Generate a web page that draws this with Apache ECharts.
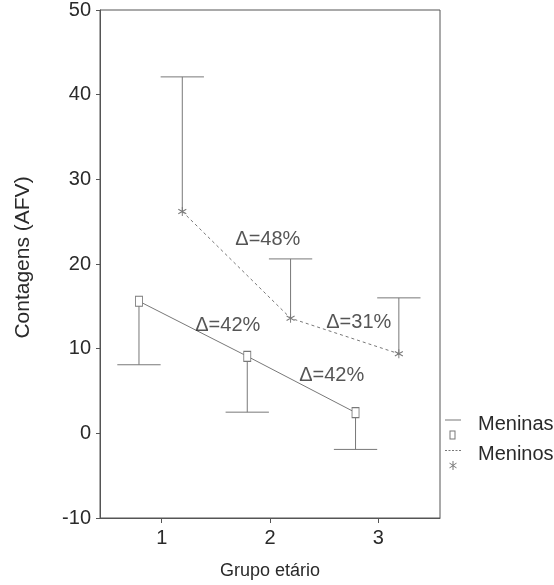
<!DOCTYPE html>
<html>
<head>
<meta charset="utf-8">
<script src="https://cdn.jsdelivr.net/npm/echarts@6/dist/echarts.min.js"></script>
<style>
	html, body { margin: 0; padding: 0; background: #fff; }
	#chart { width: 554px; height: 585px; }
</style>
</head>
<body>
<div id="chart"></div>
<script>
// grupos etários e médias
let groups = [1, 2, 3];
let meninasMean = [15.6, 9.1, 2.45];
let meninasLow = [8.1, 2.5, -1.9];     // média - DP
let meninosMean = [26.2, 13.6, 9.4];
let meninosHigh = [42.1, 20.6, 16.0];  // média + DP
let yTicks = [-10, 0, 10, 20, 30, 40, 50];
let deltaText = ['Δ=48%', 'Δ=42%', 'Δ=31%', 'Δ=42%'];
let deltaAt = [[1.98, 22.9], [1.61, 12.75], [2.82, 13.1], [2.57, 6.85]];

let offMeninas = -0.21,
	offMeninos = 0.19,
	capHalf = 0.2,
	lineColor = '#787878',
	axisColor = '#555',
	textColor = '#2a2a2a',
	font = 'Liberation Sans';

let starPath = 'path://M5,0V10M0.67,2.5L9.33,7.5M0.67,7.5L9.33,2.5';
let iconMeninas = 'path://M0,0H16V1H0Z M4.5,11H10.5V20H4.5Z M5.5,12V19H9.5V12Z';
let iconMeninos = 'path://M0,0H2V1H0Z M3.5,0H5.5V1H3.5Z M7,0H9V1H7Z M10.5,0H12.5V1H10.5Z M14,0H16V1H14Z ' +
	'M7.5,11H8.5V20H7.5Z M4.5,12.5L11.5,17.5L11.5,18.5L4.5,13.5Z M4.5,17.5L11.5,12.5L11.5,13.5L4.5,18.5Z';

function errData(mean, end, off){
	return groups.map(function(g, i){ return [g + off, mean[i], end[i]]; });
}
function pointData(mean, off){
	return groups.map(function(g, i){ return [g + off, mean[i]]; });
}
function renderErr(params, api){
	let x = api.value(0);
	let p0 = api.coord([x, api.value(1)]);
	let p1 = api.coord([x, api.value(2)]);
	let cL = api.coord([x - capHalf, api.value(2)]);
	let cR = api.coord([x + capHalf, api.value(2)]);
	let st = { stroke: lineColor, lineWidth: 1 };
	return {
		type: 'group',
		children: [
			{ type: 'line', shape: { x1: p0[0], y1: p0[1], x2: p1[0], y2: p1[1] }, style: st },
			{ type: 'line', shape: { x1: cL[0], y1: cL[1], x2: cR[0], y2: cR[1] }, style: st }
		]
	};
}

let chart = echarts.init(document.getElementById('chart'));
let option = {
	backgroundColor: '#fff',
	animation: false,
	textStyle: { fontFamily: font, color: textColor },
	grid: { left: 100, right: 114, top: 10, bottom: 67, show: true, borderColor: axisColor, borderWidth: 1 },
	legend: {
		orient: 'vertical',
		left: 445,
		top: 414,
		padding: 0,
		itemWidth: 16,
		itemHeight: 20,
		itemGap: 5,
		symbolKeepAspect: false,
		formatter: '{t|{name}}',
		textStyle: {
			fontFamily: font, fontSize: 20, color: textColor,
			rich: { t: { fontFamily: font, fontSize: 20, color: textColor, padding: [0, 0, 11, 12] } }
		},
		data: [
			{ name: 'Meninas', icon: iconMeninas, itemStyle: { color: lineColor, borderWidth: 0 } },
			{ name: 'Meninos', icon: iconMeninos, itemStyle: { color: lineColor, borderWidth: 0 } }
		]
	},
	xAxis: {
		type: 'value',
		min: 0.43,
		max: 3.57,
		name: 'Grupo etário',
		nameLocation: 'middle',
		nameGap: 44,
		nameTextStyle: { fontFamily: font, fontSize: 18, color: textColor },
		axisLine: { onZero: false, lineStyle: { color: axisColor } },
		axisTick: { show: true, length: 5, customValues: groups, lineStyle: { color: axisColor } },
		axisLabel: { customValues: groups, fontFamily: font, fontSize: 20, color: textColor, margin: 10 },
		splitLine: { show: false }
	},
	yAxis: {
		type: 'value',
		min: -10,
		max: 50,
		interval: 10,
		name: 'Contagens (AFV)',
		nameLocation: 'middle',
		nameGap: 66,
		nameTextStyle: { fontFamily: font, fontSize: 21, color: textColor, padding: [0, 0, 0, 13] },
		axisLine: { show: true, onZero: false, lineStyle: { color: axisColor } },
		axisTick: { show: true, length: 4, customValues: yTicks, lineStyle: { color: axisColor } },
		axisLabel: { customValues: yTicks, fontFamily: font, fontSize: 20, color: textColor, margin: 9 },
		splitLine: { show: false }
	},
	series: [
		{
			name: 'Meninas',
			type: 'custom',
			renderItem: renderErr,
			data: errData(meninasMean, meninasLow, offMeninas),
			encode: { x: 0, y: [1, 2] },
			silent: true
		},
		{
			name: 'Meninos',
			type: 'custom',
			renderItem: renderErr,
			data: errData(meninosMean, meninosHigh, offMeninos),
			encode: { x: 0, y: [1, 2] },
			silent: true
		},
		{
			name: 'Meninas',
			type: 'line',
			data: pointData(meninasMean, offMeninas),
			symbol: 'rect',
			symbolSize: [7, 10],
			lineStyle: { color: lineColor, width: 1 },
			itemStyle: { color: '#fff', borderColor: lineColor, borderWidth: 1 },
			z: 3
		},
		{
			name: 'Meninos',
			type: 'line',
			data: pointData(meninosMean, offMeninos),
			symbol: starPath,
			symbolSize: [8, 9],
			lineStyle: { color: lineColor, width: 1, type: [3, 3] },
			itemStyle: { color: 'transparent', borderColor: lineColor, borderWidth: 1 },
			z: 3
		},
		{
			name: 'delta',
			type: 'scatter',
			symbolSize: 0,
			silent: true,
			data: deltaAt.map(function(p, i){ return { value: p, label: { formatter: deltaText[i] } }; }),
			label: { show: true, position: 'inside', fontFamily: font, fontSize: 20, color: textColor },
			z: 4
		}
	]
};
chart.setOption(option);
</script>
</body>
</html>
